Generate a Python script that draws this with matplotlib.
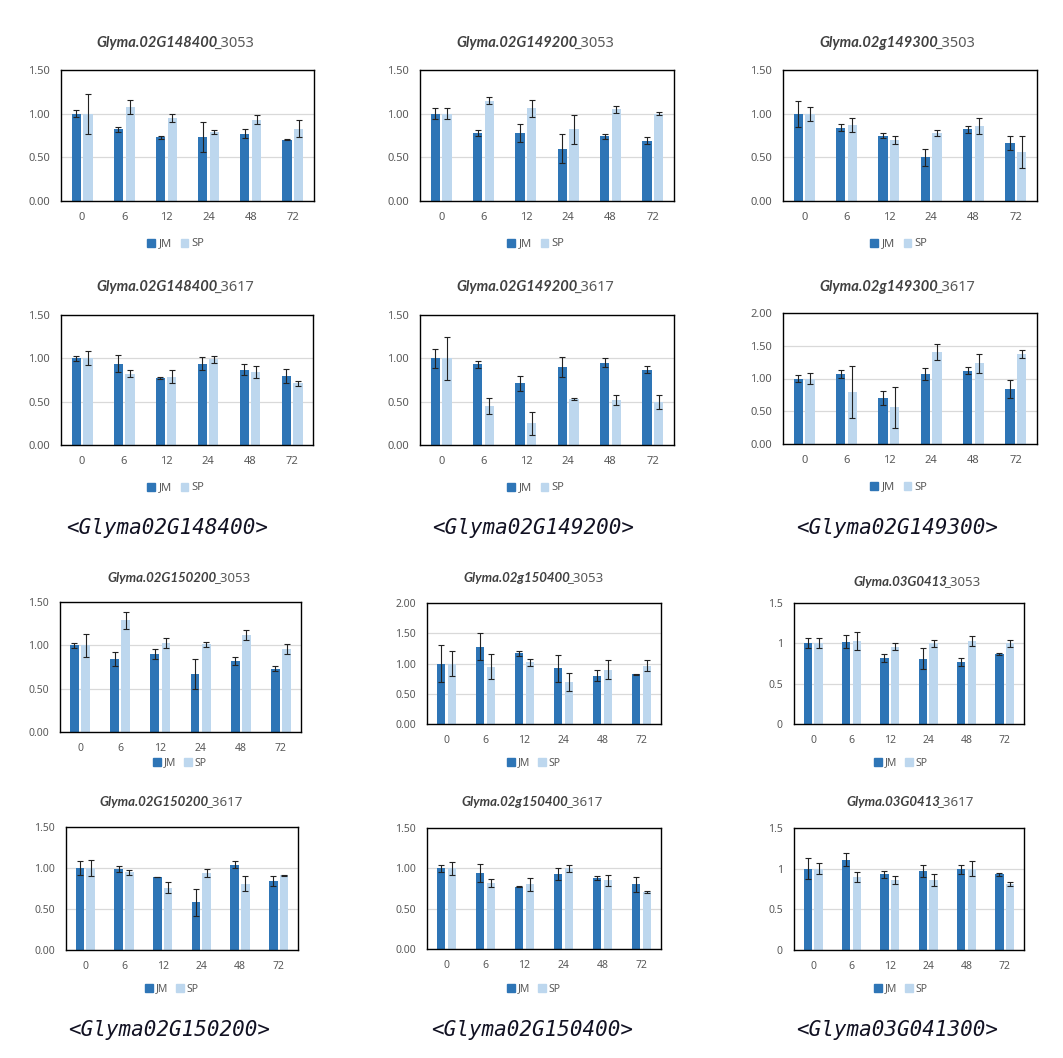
import matplotlib
matplotlib.use('Agg')
import matplotlib.pyplot as plt
from matplotlib.patches import Patch
from matplotlib.ticker import FormatStrFormatter, FuncFormatter
import numpy as np

W, H = 1063, 1058
plt.rcParams['font.family'] = ['Noto Sans', 'DejaVu Sans']

# --- Data ---
TIMES = ['0', '6', '12', '24', '48', '72']
GENES = ['Glyma.02G148400', 'Glyma.02G149200', 'Glyma.02g149300',
         'Glyma.02G148400', 'Glyma.02G149200', 'Glyma.02g149300',
         'Glyma.02G150200', 'Glyma.02g150400', 'Glyma.03G0413',
         'Glyma.02G150200', 'Glyma.02g150400', 'Glyma.03G0413']
PROBES = ['_3053', '_3053', '_3503', '_3617', '_3617', '_3617',
          '_3053', '_3053', '_3053', '_3617', '_3617', '_3617']
JM_MEAN = [
    [1.00, 0.82, 0.73, 0.73, 0.77, 0.70],
    [1.00, 0.78, 0.78, 0.60, 0.74, 0.69],
    [1.00, 0.84, 0.75, 0.50, 0.82, 0.66],
    [1.00, 0.94, 0.77, 0.94, 0.87, 0.80],
    [1.00, 0.93, 0.71, 0.90, 0.95, 0.87],
    [1.00, 1.07, 0.70, 1.07, 1.12, 0.84],
    [1.00, 0.84, 0.90, 0.67, 0.82, 0.73],
    [1.00, 1.28, 1.17, 0.92, 0.80, 0.82],
    [1.00, 1.02, 0.82, 0.81, 0.77, 0.87],
    [1.00, 0.99, 0.89, 0.58, 1.04, 0.84],
    [1.00, 0.94, 0.77, 0.93, 0.88, 0.80],
    [1.00, 1.11, 0.93, 0.97, 0.99, 0.93],
]
JM_ERR = [
    [0.04, 0.03, 0.02, 0.17, 0.05, 0.005],
    [0.06, 0.03, 0.10, 0.17, 0.03, 0.04],
    [0.15, 0.04, 0.03, 0.10, 0.04, 0.08],
    [0.03, 0.10, 0.01, 0.07, 0.06, 0.08],
    [0.11, 0.04, 0.09, 0.11, 0.05, 0.04],
    [0.05, 0.06, 0.11, 0.09, 0.05, 0.14],
    [0.03, 0.08, 0.06, 0.17, 0.05, 0.03],
    [0.31, 0.23, 0.04, 0.22, 0.09, 0.01],
    [0.06, 0.08, 0.05, 0.13, 0.05, 0.01],
    [0.08, 0.04, 0.005, 0.17, 0.045, 0.06],
    [0.04, 0.11, 0.005, 0.07, 0.03, 0.09],
    [0.13, 0.08, 0.04, 0.07, 0.06, 0.02],
]
SP_MEAN = [
    [1.00, 1.08, 0.95, 0.79, 0.93, 0.83],
    [1.00, 1.15, 1.06, 0.82, 1.05, 1.00],
    [1.00, 0.87, 0.70, 0.78, 0.86, 0.56],
    [1.00, 0.82, 0.79, 0.99, 0.84, 0.71],
    [1.00, 0.45, 0.25, 0.53, 0.52, 0.50],
    [1.00, 0.79, 0.56, 1.40, 1.23, 1.38],
    [1.00, 1.29, 1.03, 1.01, 1.12, 0.96],
    [1.00, 0.95, 1.02, 0.70, 0.90, 0.96],
    [1.00, 1.03, 0.96, 1.00, 1.03, 1.00],
    [1.00, 0.95, 0.76, 0.94, 0.81, 0.91],
    [1.00, 0.82, 0.80, 1.00, 0.85, 0.71],
    [1.00, 0.90, 0.86, 0.86, 1.00, 0.81],
]
SP_ERR = [
    [0.23, 0.08, 0.05, 0.02, 0.05, 0.10],
    [0.06, 0.04, 0.10, 0.17, 0.04, 0.015],
    [0.08, 0.08, 0.05, 0.03, 0.09, 0.18],
    [0.08, 0.04, 0.07, 0.04, 0.07, 0.03],
    [0.25, 0.09, 0.13, 0.015, 0.06, 0.08],
    [0.08, 0.40, 0.31, 0.12, 0.14, 0.06],
    [0.13, 0.10, 0.06, 0.03, 0.06, 0.055],
    [0.21, 0.21, 0.06, 0.15, 0.16, 0.09],
    [0.06, 0.11, 0.04, 0.04, 0.06, 0.04],
    [0.10, 0.03, 0.07, 0.05, 0.09, 0.01],
    [0.08, 0.05, 0.08, 0.04, 0.07, 0.015],
    [0.065, 0.06, 0.05, 0.07, 0.09, 0.02],
]
Y_MAX = [1.5, 1.5, 1.5, 1.5, 1.5, 2.0, 1.5, 2.0, 1.5, 1.5, 1.5, 1.5]
CAPTIONS = ['<Glyma02G148400>', '<Glyma02G149200>', '<Glyma02G149300>',
            '<Glyma02G150200>', '<Glyma02G150400>', '<Glyma03G041300>']

# --- Layout (pixels): plot box left, right, top, bottom ---
BOXES = [(61, 314, 70, 201), (420, 674, 70, 201), (783, 1037, 70, 201),
         (61, 313, 315, 445), (420, 674, 315, 445), (783, 1037, 313, 444),
         (60, 301, 602, 732), (427, 661, 603, 724), (794, 1024, 603, 724),
         (66, 298, 827, 950), (427, 661, 828, 949), (794, 1024, 828, 950)]
TITLE_POS = [(175, 43), (535, 43), (897, 43), (175, 287), (535, 287), (897, 287),
             (179, 578), (533, 578), (917, 582), (171, 802), (532, 802), (910, 802)]
LEGEND_POS = [(176, 244), (536, 244), (899, 244), (176, 488), (536, 488), (899, 487),
              (180, 763), (534, 763), (901, 763), (172, 989), (534, 989), (901, 989)]
CAPTION_POS = [(167, 528), (533, 528), (897, 528), (169, 1030), (532, 1030), (897, 1030)]

JM_COLOR = '#2E75B6'
SP_COLOR = '#BDD7EE'
TEXT_COLOR = '#595959'

fig = plt.figure(figsize=(W / 100, H / 100), dpi=100)
x = np.arange(len(TIMES))
bw = 0.22
titles = []

for i in range(12):
    l, r, t, b = BOXES[i]
    ax = fig.add_axes([l / W, 1 - b / H, (r - l) / W, (b - t) / H])
    small = i >= 6
    ax.bar(x - 0.14, JM_MEAN[i], bw, color=JM_COLOR, yerr=JM_ERR[i],
           error_kw=dict(ecolor='#222222', elinewidth=0.8, capsize=2.2, capthick=0.8), zorder=2)
    ax.bar(x + 0.14, SP_MEAN[i], bw, color=SP_COLOR, yerr=SP_ERR[i],
           error_kw=dict(ecolor='#222222', elinewidth=0.8, capsize=2.2, capthick=0.8), zorder=2)
    ax.set_xlim(-0.5, len(TIMES) - 0.5)
    ax.set_ylim(0, Y_MAX[i])
    ax.set_yticks(np.arange(0, Y_MAX[i] + 0.01, 0.5))
    if i in (8, 11):
        ax.yaxis.set_major_formatter(FuncFormatter(lambda v, p: f'{v:g}'))
    else:
        ax.yaxis.set_major_formatter(FormatStrFormatter('%.2f'))
    ax.set_xticks(x)
    ax.set_xticklabels(TIMES)
    ax.grid(axis='y', color='#D9D9D9', linewidth=0.9, zorder=0)
    ax.set_axisbelow(True)
    fs = 7.5 if small else 8
    ax.tick_params(length=0, labelsize=fs, colors=TEXT_COLOR)
    ax.tick_params(axis='x', pad=8)
    ax.tick_params(axis='y', pad=8)
    for s in ax.spines.values():
        s.set_color('black')
        s.set_linewidth(1.0)

    # title: bold italic gene name + plain probe id
    tx, ty = TITLE_POS[i]
    tsize = 9.5 if small else 10.5
    t1 = fig.text(tx / W, 1 - ty / H, GENES[i], fontsize=tsize, fontweight='bold',
                  fontstyle='italic', family=['Lato', 'DejaVu Sans'],
                  color='#404040', ha='left', va='center')
    t2 = fig.text(tx / W, 1 - ty / H, PROBES[i], fontsize=tsize, color='#595959',
                  ha='left', va='center')
    titles.append((tx, t1, t2))

    lx, ly = LEGEND_POS[i]
    handles = [Patch(color=JM_COLOR, label='JM'), Patch(color=SP_COLOR, label='SP')]
    fig.legend(handles=handles, loc='center', bbox_to_anchor=(lx / W, 1 - ly / H), ncol=2,
               frameon=False, fontsize=fs, handlelength=0.7, handleheight=0.7,
               handletextpad=0.3, columnspacing=0.8, labelcolor=TEXT_COLOR)

for cap, (cx, cy) in zip(CAPTIONS, CAPTION_POS):
    fig.text(cx / W, 1 - cy / H, cap, family='DejaVu Sans Mono', fontstyle='italic',
             fontsize=15, color='#111122', ha='center', va='center')

# center the two-part titles (small overlap closes the italic gap)
fig.canvas.draw()
rend = fig.canvas.get_renderer()
for tx, t1, t2 in titles:
    w1 = t1.get_window_extent(rend).width - 3
    w2 = t2.get_window_extent(rend).width
    x0 = tx - (w1 + w2) / 2
    t1.set_x(x0 / W)
    t2.set_x((x0 + w1) / W)

fig.savefig('out.png', dpi=100, facecolor='white')
